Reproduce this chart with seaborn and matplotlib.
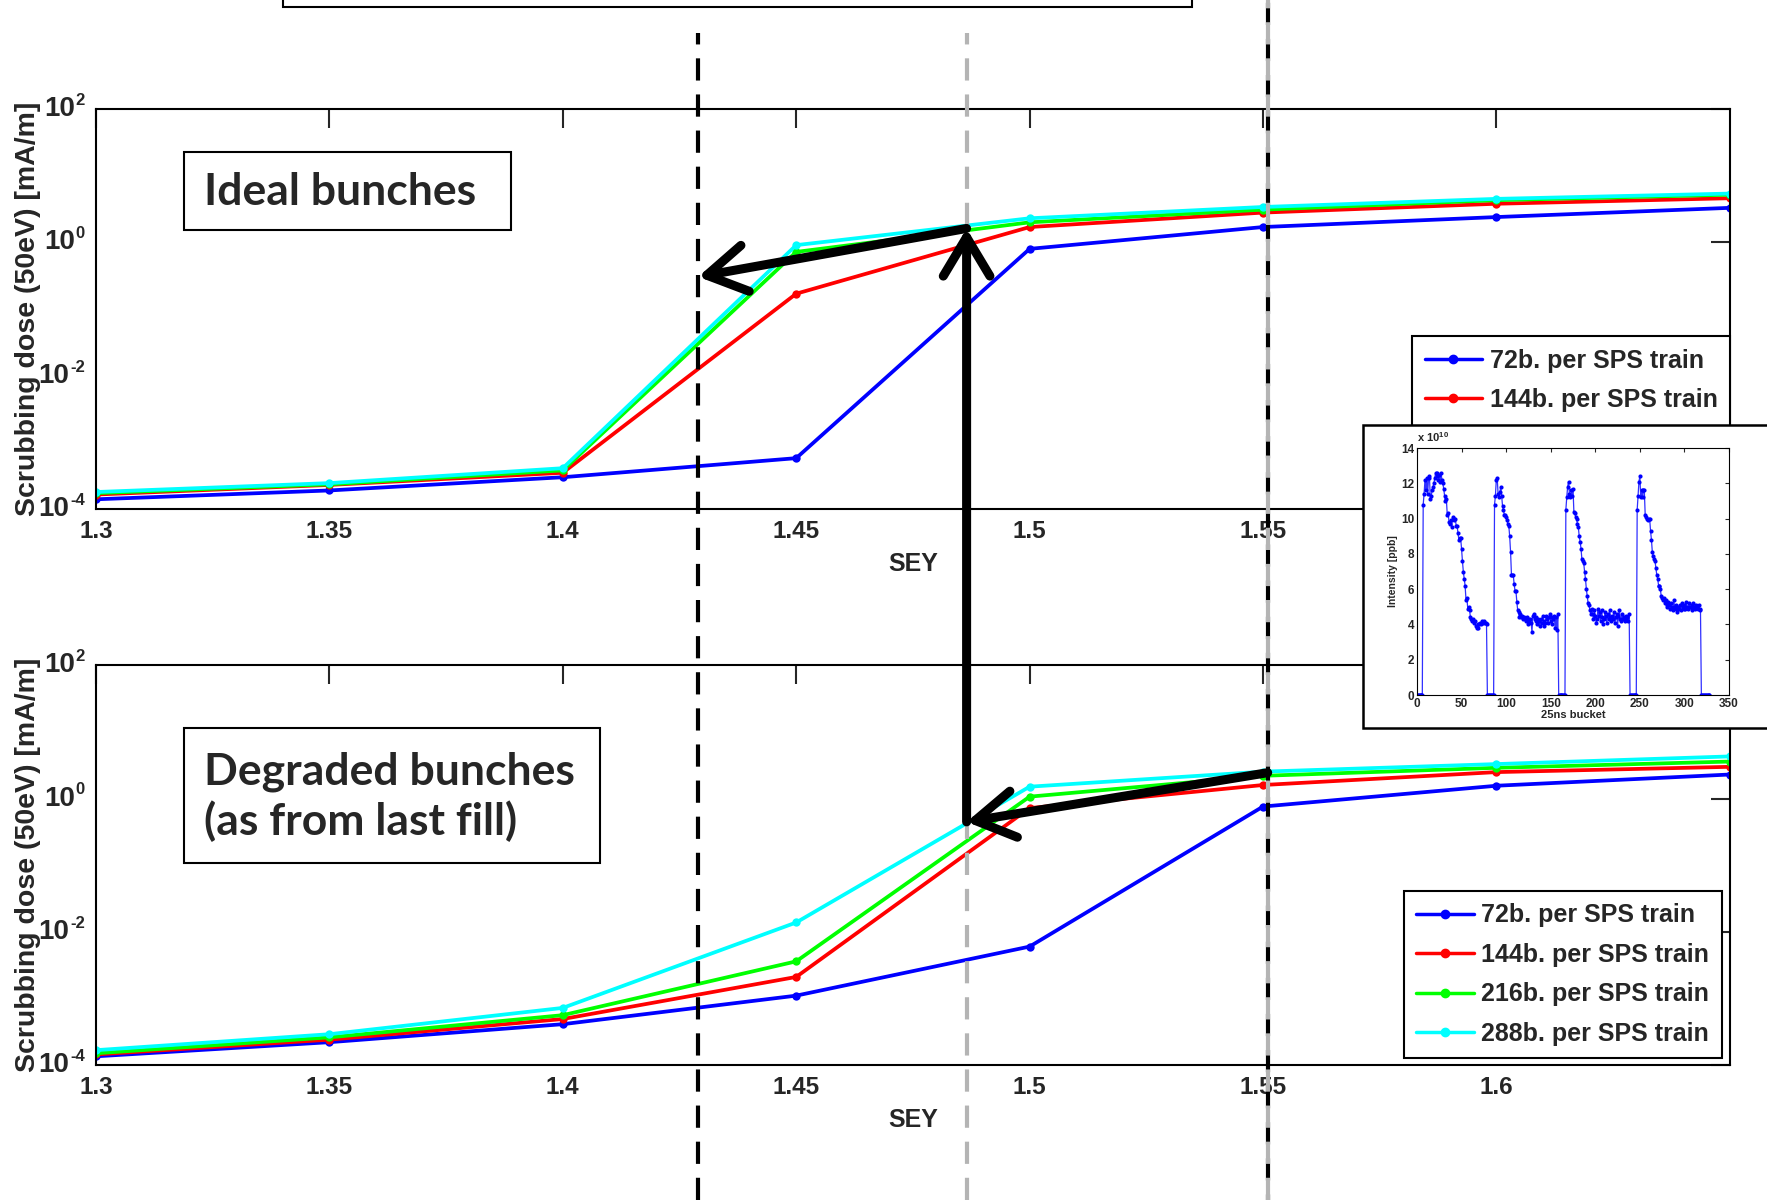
import numpy as np
import pandas as pd
import seaborn as sns
import matplotlib.pyplot as plt
from matplotlib import transforms
from matplotlib.lines import Line2D
from matplotlib.patches import Rectangle, ConnectionPatch

# --- data ---
sey = [1.3, 1.35, 1.4, 1.45, 1.5, 1.55, 1.6, 1.65]
trains = ['72b. per SPS train', '144b. per SPS train',
          '216b. per SPS train', '288b. per SPS train']
colors = ['#0000ff', '#ff0000', '#00ff00', '#00ffff']

# ideal bunches
ideal_72 = [1.4e-4, 1.9e-4, 3.0e-4, 5.8e-4, 0.8, 1.7, 2.4, 3.3]
ideal_144 = [1.65e-4, 2.3e-4, 3.5e-4, 0.17, 1.7, 2.8, 3.8, 4.6]
ideal_216 = [1.73e-4, 2.35e-4, 3.8e-4, 0.72, 2.0, 3.1, 4.3, 5.2]
ideal_288 = [1.8e-4, 2.45e-4, 4.1e-4, 0.91, 2.3, 3.4, 4.5, 5.4]

# degraded bunches (as from last fill)
degr_72 = [1.35e-4, 2.2e-4, 4.1e-4, 1.1e-3, 6.0e-3, 0.76, 1.56, 2.3]
degr_144 = [1.44e-4, 2.4e-4, 4.9e-4, 2.1e-3, 0.72, 1.6, 2.5, 3.0]
degr_216 = [1.5e-4, 2.6e-4, 5.6e-4, 3.6e-3, 1.07, 2.2, 2.9, 3.6]
degr_288 = [1.67e-4, 2.9e-4, 7.2e-4, 0.0138, 1.51, 2.54, 3.3, 4.3]

xtick_pos = [1.3, 1.35, 1.4, 1.45, 1.5, 1.55, 1.6]
xtick_lab = ['1.3', '1.35', '1.4', '1.45', '1.5', '1.55', '1.6']
ytick_pos = [1e-4, 1e-2, 1e0, 1e2]
ytick_exp = ['-4', '-2', '0', '2']

# markers on the sketch
vlines_sey = [1.429, 1.4865, 1.551]
top_arrow = [(1.4865, 1.62), (1.429, 0.305)]
up_arrow = [(1.4865, 0.447), (1.4865, 1.62)]
bot_arrow = [(1.551, 2.45), (1.4865, 0.447)]

# inset: bunch intensity [1e10 ppb] per 25ns bucket
train_1 = [10.8, 11.4, 12.2, 11.6, 12.3, 11.4,
           12.3, 12.4, 11.1, 11.3, 11.6, 11.8, 12.0, 12.3,
           12.6, 12.4, 12.6, 12.2, 12.5, 12.1, 12.6, 12.2, 12.0, 11.7, 11.3, 11.0,
           11.1, 10.2, 10.3, 9.8, 9.7, 9.9, 9.5, 10.1, 10.0, 9.9, 10.0, 9.6,
           9.6, 9.2, 8.8, 8.9, 8.9, 8.3, 7.6, 7.0, 6.6, 6.2, 5.4, 5.5,
           4.9, 5.0, 4.8, 4.4, 4.3, 4.2, 4.3, 4.1, 4.2, 3.9, 3.8, 4.0,
           3.8, 4.0, 4.1, 4.0, 4.2, 4.1, 4.2, 4.1, 4.1, 4.0]
train_2 = [10.8, 11.3, 12.2, 12.3, 11.4, 11.2,
           11.5, 11.8, 11.3, 10.7, 10.5, 10.2,
           10.2, 10.1, 9.9, 9.7, 9.6, 9.0,
           8.1, 6.8, 6.8, 6.8, 6.3, 5.9,
           5.9, 5.3, 4.8, 4.7, 4.4, 4.6,
           4.4, 4.5, 4.3, 4.4, 4.3, 4.2,
           4.4, 4.3, 4.0, 4.2, 4.3, 4.1,
           3.6, 4.5, 4.6, 4.3, 4.2, 4.4,
           4.0, 4.3, 4.2, 3.9, 4.3, 4.1,
           4.5, 4.2, 3.9, 4.1, 4.5, 4.3,
           4.1, 4.4, 4.6, 4.2, 4.0, 4.4,
           4.3, 4.5, 3.8, 4.4, 3.7, 4.6]
train_3 = [10.5, 11.2, 11.8, 12.1, 11.4, 11.2,
           11.6, 11.3, 11.7, 10.4, 10.3, 10.1,
           10.0, 9.7, 9.5, 9.0, 8.7, 8.3,
           7.7, 7.6, 7.5, 7.0, 6.6, 6.0,
           5.6, 5.2, 5.1, 4.8, 4.6, 4.9,
           4.6, 4.3, 4.8, 4.5, 4.1, 4.3,
           4.9, 4.5, 4.7, 4.2, 4.8, 4.4,
           4.0, 4.3, 4.7, 4.5, 4.1, 4.6,
           4.3, 4.8, 4.4, 4.2, 4.5, 4.3,
           4.7, 4.1, 4.4, 4.6, 3.9, 4.5,
           4.8, 4.3, 4.2, 4.6, 4.3, 4.4,
           4.2, 4.5, 4.3, 4.4, 4.2, 4.6]
train_4 = [10.5, 11.3, 12.1, 12.4, 11.2, 11.6,
           11.2, 11.6, 11.6, 10.2, 10.1, 10.0,
           9.9, 10.0, 10.0, 9.3, 8.8, 8.1,
           7.9, 7.7, 7.6, 7.2, 6.8, 6.6,
           6.2, 6.2, 6.0, 5.6, 5.5, 5.4,
           5.5, 5.2, 5.4, 5.1, 5.0, 5.3,
           5.1, 4.9, 5.2, 5.0, 4.8, 5.4,
           5.0, 4.9, 5.1, 4.7, 5.0, 4.9,
           5.1, 4.8, 5.2, 5.0, 4.9, 5.1,
           4.9, 5.3, 5.0, 4.9, 5.2, 5.0,
           5.0, 5.1, 4.8, 5.2, 5.0, 4.9,
           5.1, 5.0, 4.9, 5.1, 4.9, 4.8]
train_start = [7, 87, 167, 247]
last_bucket = 328

sns.set_style('white')
plt.rcParams['font.family'] = ['Liberation Sans', 'DejaVu Sans']
plt.rcParams['font.weight'] = 'bold'
plt.rcParams['mathtext.fontset'] = 'custom'
plt.rcParams['mathtext.bf'] = 'Liberation Sans:bold'
plt.rcParams['mathtext.rm'] = 'Liberation Sans:bold'
plt.rcParams['lines.scale_dashes'] = False

fig = plt.figure(figsize=(17.67, 12), dpi=100)
fig.patch.set_facecolor('white')
ax_top = fig.add_axes([0.0543, 0.5758, 0.9247, 0.3333])
ax_bot = fig.add_axes([0.0543, 0.1125, 0.9247, 0.3330])


def long_df(series):
    return pd.DataFrame({'SEY': np.tile(sey, len(series)),
                         'dose': np.concatenate(series),
                         'train': np.repeat(trains, len(sey))})


def style_axes(ax):
    ax.set_yscale('log')
    ax.set_xlim(1.3, 1.65)
    ax.set_ylim(1e-4, 1e2)
    ax.set_xticks(xtick_pos)
    ax.set_xticklabels(xtick_lab)
    ax.set_yticks(ytick_pos)
    ax.set_yticklabels([])
    ax.minorticks_off()
    ax.tick_params(direction='in', length=14, width=1.5, top=True, right=True,
                   labelsize=17.5, pad=8)
    for s in ax.spines.values():
        s.set_linewidth(1.5)
        s.set_color('black')
    # MATLAB style 10^n labels: big base, small exponent
    ytrans = transforms.blended_transform_factory(ax.transAxes, ax.transData)
    for y, e in zip(ytick_pos, ytick_exp):
        w = 12 * (0.556 * e.count('') - 0.556 + (0.333 - 0.556) * e.count('-'))
        ax.annotate(e, (0, y), xycoords=ytrans, xytext=(-8, 3), textcoords='offset points',
                    ha='right', va='baseline', fontsize=12, annotation_clip=False)
        ax.annotate('10', (0, y), xycoords=ytrans, xytext=(-8.5 - w, 0),
                    textcoords='offset points', ha='right', va='center', fontsize=20,
                    annotation_clip=False)
    ax.set_xlabel('SEY', fontsize=18, fontweight='bold')
    ax.xaxis.set_label_coords(0.5, -0.107)
    ax.xaxis.label.set_va('top')
    ax.set_ylabel('Scrubbing dose (50eV) [mA/m]', fontsize=20.5, fontweight='bold')
    ax.yaxis.set_label_coords(-0.0337, 0.5)


handles = [Line2D([0], [0], color=c, lw=2.5, marker='o', ms=6) for c in colors]

for ax, series, anchor in [(ax_top, [ideal_72, ideal_144, ideal_216, ideal_288], (1.0, 0.4325)),
                           (ax_bot, [degr_72, degr_144, degr_216, degr_288], (0.995, 0.4355))]:
    sns.lineplot(data=long_df(series), x='SEY', y='dose', hue='train', hue_order=trains,
                 palette=colors, marker='o', markersize=6, markeredgewidth=0,
                 linewidth=2.7, ax=ax, legend=False)
    style_axes(ax)
    leg = ax.legend(handles, trains, loc='upper right', bbox_to_anchor=anchor,
                    prop={'weight': 'bold', 'size': 18},
                    handlelength=2.3, handletextpad=0.3, labelspacing=0.62,
                    borderpad=0.5, borderaxespad=0, fancybox=False, framealpha=1)
    leg.get_frame().set_edgecolor('black')
    leg.get_frame().set_linewidth(1.5)

# text boxes
fig.add_artist(Rectangle((283 / 1767, 1 - 7 / 1200), 909 / 1767, 0.05,
                         transform=fig.transFigure, fc='white', ec='black', lw=1.5))
fig.add_artist(Rectangle((0.1041, 0.8083), 0.1851, 0.0650, transform=fig.transFigure,
                         fc='white', ec='black', lw=1.5))
fig.text(0.1154, 0.8403, 'Ideal bunches', family='Lato', weight='bold', fontsize=32,
         va='center', ha='left')
fig.add_artist(Rectangle((0.1041, 0.2808), 0.2355, 0.1125, transform=fig.transFigure,
                         fc='white', ec='black', lw=1.5))
fig.text(0.1154, 0.3363, 'Degraded bunches\n(as from last fill)', family='Lato',
         weight='bold', fontsize=32, va='center', ha='left', linespacing=1.25)

# vertical dashed guide lines across both panels
trans = transforms.blended_transform_factory(ax_top.transData, fig.transFigure)
fig.add_artist(Line2D([vlines_sey[0]] * 2, [0, 0.9725], transform=trans, color='black',
                      lw=3.0, linestyle=(0, (16, 10)), zorder=1.5))
fig.add_artist(Line2D([vlines_sey[1]] * 2, [0, 0.9725], transform=trans, color='#b4b4b4',
                      lw=3.0, linestyle=(0, (16, 10)), zorder=1.5))
fig.add_artist(Line2D([vlines_sey[2]] * 2, [0, 1.0], transform=trans, color='black',
                      lw=3.0, linestyle=(12, (16, 10)), zorder=1.5))
fig.add_artist(Line2D([vlines_sey[2]] * 2, [0, 1.0], transform=trans, color='#b4b4b4',
                      lw=3.0, linestyle=(0, (16, 10)), zorder=1.6))

# arrows
arrow_style = '->,head_length=1.0,head_width=0.6'
for (a, axa), (b, axb) in [((top_arrow[0], ax_top), (top_arrow[1], ax_top)),
                           ((up_arrow[0], ax_bot), (up_arrow[1], ax_top)),
                           ((bot_arrow[0], ax_bot), (bot_arrow[1], ax_bot))]:
    cp = ConnectionPatch(xyA=a, coordsA=axa.transData, xyB=b, coordsB=axb.transData,
                         arrowstyle=arrow_style, mutation_scale=28, lw=6.5, color='black',
                         shrinkA=0, shrinkB=0, capstyle='round', joinstyle='round', zorder=4)
    fig.add_artist(cp)

# inset with bunch intensities
fig.add_artist(Rectangle((0.7714, 0.3933), 0.25, 0.2525, transform=fig.transFigure,
                         fc='white', ec='black', lw=1.8, zorder=2))
ax_in = fig.add_axes([0.8019, 0.4208, 0.1766, 0.2058])
ax_in.set_zorder(3)
bucket = np.arange(0, last_bucket + 1)
intensity = np.zeros(len(bucket))
for start, vals in zip(train_start, [train_1, train_2, train_3, train_4]):
    intensity[start:start + len(vals)] = vals
sns.lineplot(x=bucket, y=intensity, ax=ax_in, color='#3030ff', linewidth=0.9,
             marker='o', markersize=3, markeredgewidth=0, markerfacecolor='#0000ff')
ax_in.set_xlim(0, 350)
ax_in.set_ylim(0, 14)
ax_in.set_xticks(range(0, 351, 50))
ax_in.set_yticks(range(0, 15, 2))
ax_in.tick_params(direction='in', length=3, width=0.8, top=True, right=True,
                  labelsize=8.5, pad=2)
for s in ax_in.spines.values():
    s.set_linewidth(0.8)
    s.set_color('black')
ax_in.set_xlabel('25ns bucket', fontsize=8, weight='bold', labelpad=0)
ax_in.set_ylabel('Intensity [ppb]', fontsize=7.5, weight='bold', labelpad=2)
ax_in.text(0.0, 1.015, r'x 10$^{10}$', transform=ax_in.transAxes, fontsize=8,
           weight='bold', va='bottom', ha='left')

fig.savefig('out.png', dpi=100, facecolor='white')
